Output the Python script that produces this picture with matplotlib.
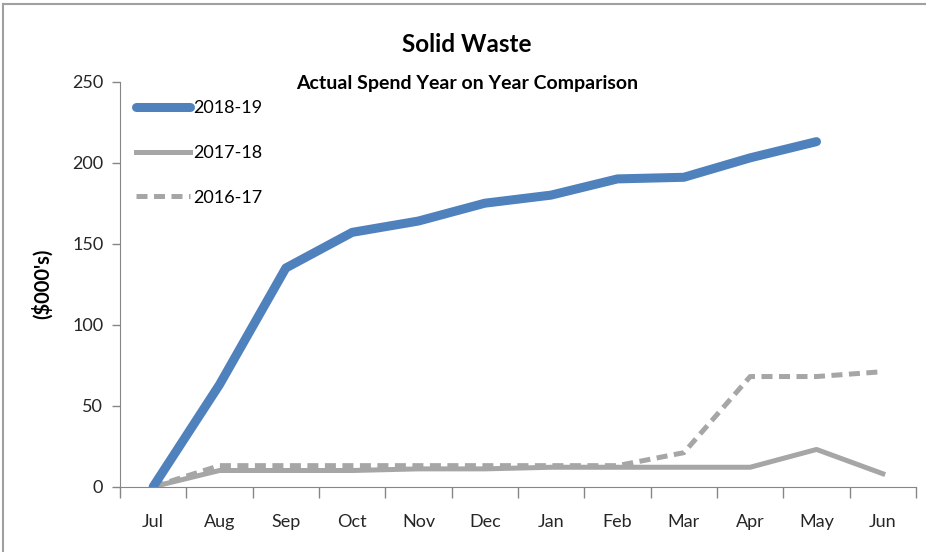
import matplotlib
matplotlib.use("Agg")
import matplotlib.pyplot as plt
from matplotlib.lines import Line2D

# ==========================
# DATOS
# ==========================
meses = ["Jul", "Aug", "Sep", "Oct", "Nov", "Dec", "Jan", "Feb", "Mar", "Apr", "May", "Jun"]
gasto_2018_19 = [0, 63, 135, 157, 164, 175, 180, 190, 191, 203, 213]
gasto_2017_18 = [0, 10, 10, 10, 11, 11, 12, 12, 12, 12, 23, 8]
gasto_2016_17 = [0, 13, 13, 13, 13, 13, 13, 13, 21, 68, 68, 71]
y_ticks = [0, 50, 100, 150, 200, 250]

plt.rcParams["font.family"] = ["Lato", "DejaVu Sans"]

azul = "#4f81bd"
gris = "#a6a6a6"
eje = "#868686"

fig = plt.figure(figsize=(9.26, 5.52), dpi=100)
ax = fig.add_axes([120 / 926, 1 - 486.7 / 552, 796 / 926, 405 / 552])

x = range(len(meses))
ax.plot(list(x)[:len(gasto_2018_19)], gasto_2018_19, color=azul, lw=6.5,
        solid_capstyle="round", label="2018-19", zorder=3)
ax.plot(x, gasto_2017_18, color=gris, lw=3.6, label="2017-18", zorder=2)
ax.plot(x, gasto_2016_17, color=gris, lw=3.6, ls=(0, (2.2, 1.3)), label="2016-17", zorder=2)

ax.set_xlim(-0.5, len(meses) - 0.5)
ax.set_ylim(0, 250)
ax.set_yticks(y_ticks)
ax.set_xticks(x)
ax.set_xticklabels(meses)
ax.set_xticks([i - 0.5 for i in range(len(meses) + 1)], minor=True)
ax.tick_params(axis="x", which="major", length=0, pad=20, labelsize=13, colors="#262626")
ax.tick_params(axis="x", which="minor", length=8, width=1, color=eje, direction="out")
ax.tick_params(axis="y", length=6, width=1, color=eje, labelsize=13, labelcolor="#262626", pad=6)

for lado in ["top", "right"]:
    ax.spines[lado].set_visible(False)
ax.spines["left"].set_color(eje)
ax.spines["bottom"].set_color(eje)

ax.set_ylabel("($000's)", fontsize=14.5, fontweight="bold", labelpad=14)

fig.text(467 / 926, 1 - 45 / 552, "Solid Waste", ha="center", va="center",
         fontsize=17.5, fontweight="bold")
fig.text(467 / 926, 1 - 83 / 552, "Actual Spend Year on Year Comparison", ha="center",
         va="center", fontsize=14, fontweight="bold")

leg = ax.legend(loc="upper left", bbox_to_anchor=(0.0, 0.995), frameon=False,
                fontsize=13, handlelength=3.0, handletextpad=0.15, labelspacing=1.6)

# borde del area del grafico
fig.add_artist(Line2D([3 / 926, 3 / 926], [0, 1 - 4 / 552], color="#a0a0a0", lw=1.5))
fig.add_artist(Line2D([3 / 926, 1], [1 - 4 / 552, 1 - 4 / 552], color="#a0a0a0", lw=1.5))

fig.savefig("out.png", dpi=100)
